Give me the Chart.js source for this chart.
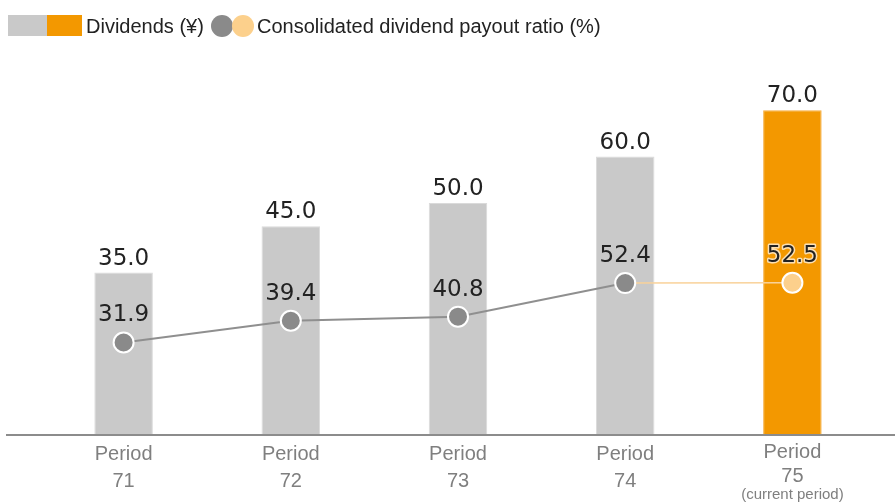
<!DOCTYPE html>
<html>
<head>
<meta charset="utf-8">
<script src="https://cdn.jsdelivr.net/npm/chart.js@4"></script>
<style>
    html, body { margin: 0; padding: 0; background: #fff; }
    #wrap { position: relative; width: 895px; height: 502px; }
    #legend { position: absolute; left: 0; top: 0; width: 895px; height: 50px;
              font-family: 'Liberation Sans', Arial, sans-serif; font-size: 20px; color: #222; }
    #legend .box { position: absolute; top: 15px; height: 21px; }
    #legend .dot { position: absolute; top: 15px; width: 22px; height: 22px; border-radius: 50%; }
    #legend .txt { position: absolute; top: 14px; line-height: 24px; white-space: nowrap; }
</style>
</head>
<body>
<div id="wrap">
    <canvas id="dividendChart" width="895" height="502"></canvas>
    <div id="legend">
        <div class="box" style="left:8px;width:39px;background:#c9c9c9"></div>
        <div class="box" style="left:47px;width:35px;background:#f39800"></div>
        <div class="txt" style="left:86px">Dividends (¥)</div>
        <div class="dot" style="left:211px;background:#8a8a8a"></div>
        <div class="dot" style="left:232px;background:#fcd08c"></div>
        <div class="txt" style="left:257px">Consolidated dividend payout ratio (%)</div>
    </div>
</div>
<script>
// data
const periods = ['71', '72', '73', '74', '75'];
const periodNotes = ['', '', '', '', '(current period)'];
const dividends = [35.0, 45.0, 50.0, 60.0, 70.0];
const payoutRatio = [31.9, 39.4, 40.8, 52.4, 52.5];

// colours
const barGray = '#c9c9c9';
const barOrange = '#f39800';
const pointGray = '#8a8a8a';
const pointOrange = '#fcd08c';
const currentIdx = periods.length - 1;

// draws value labels, x labels and the base line
const labelPlugin = {
    id: 'labelPlugin',
    afterDatasetsDraw(chart) {
        const ctx = chart.ctx;
        const barMeta = chart.getDatasetMeta(0);
        const lineMeta = chart.getDatasetMeta(1);
        const area = chart.chartArea;

        ctx.save();

        // base line
        ctx.strokeStyle = '#8c8c8c';
        ctx.lineWidth = 2;
        ctx.beginPath();
        ctx.moveTo(6, area.bottom);
        ctx.lineTo(chart.width, area.bottom);
        ctx.stroke();

        // value labels
        ctx.font = '23px "DejaVu Sans", sans-serif';
        ctx.textAlign = 'center';
        ctx.textBaseline = 'alphabetic';
        ctx.fillStyle = '#222';
        barMeta.data.forEach((bar, i) => {
            ctx.fillText(dividends[i].toFixed(1), bar.x, bar.y - 8);
        });
        lineMeta.data.forEach((pt, i) => {
            const txt = payoutRatio[i].toFixed(1);
            if (i === currentIdx) {
                ctx.strokeStyle = 'rgba(255,255,255,0.7)';
                ctx.lineWidth = 3;
                ctx.lineJoin = 'round';
                ctx.strokeText(txt, pt.x, pt.y - 21);
            }
            ctx.fillText(txt, pt.x, pt.y - 21);
        });

        // x labels
        const xScale = chart.scales.x;
        ctx.fillStyle = '#7f7f7f';
        periods.forEach((p, i) => {
            const x = xScale.getPixelForValue(i);
            const shift = periodNotes[i] ? -2 : 0;
            ctx.font = '20px "Liberation Sans", Arial, sans-serif';
            ctx.fillText('Period', x, 460 + shift);
            ctx.fillText(p, x, 487 + shift - (periodNotes[i] ? 3 : 0));
            if (periodNotes[i]) {
                ctx.font = '15px "Liberation Sans", Arial, sans-serif';
                ctx.fillText(periodNotes[i], x, 499);
            }
        });

        ctx.restore();
    }
};

new Chart(document.getElementById('dividendChart'), {
    data: {
        labels: periods,
        datasets: [{
            type: 'bar',
            label: 'Dividends (¥)',
            data: dividends,
            yAxisID: 'y',
            order: 2,
            backgroundColor: periods.map((p, i) => i === currentIdx ? barOrange : barGray),
            borderColor: periods.map((p, i) => i === currentIdx ? '#f6ad3f' : '#dadada'),
            borderWidth: 1,
            borderSkipped: 'bottom',
            categoryPercentage: 1,
            barPercentage: 0.35
        }, {
            type: 'line',
            label: 'Consolidated dividend payout ratio (%)',
            data: payoutRatio,
            yAxisID: 'y2',
            order: 1,
            borderWidth: 2,
            segment: {
                borderColor: c => c.p1DataIndex === currentIdx ? '#f9d29a' : '#8f8f8f',
                borderWidth: c => c.p1DataIndex === currentIdx ? 1.5 : 2
            },
            pointRadius: 10,
            pointHoverRadius: 10,
            pointBorderWidth: 2,
            pointBorderColor: '#fff',
            pointBackgroundColor: periods.map((p, i) => i === currentIdx ? pointOrange : pointGray),
            tension: 0
        }]
    },
    options: {
        responsive: false,
        animation: false,
        layout: { padding: { left: 40, right: 19, top: 87, bottom: 67 } },
        plugins: {
            legend: { display: false },
            tooltip: { enabled: false }
        },
        scales: {
            x: { display: false },
            y: { display: false, min: 0, max: 75 },
            y2: { display: false, min: 0, max: 120 }
        }
    },
    plugins: [labelPlugin]
});
</script>
</body>
</html>
